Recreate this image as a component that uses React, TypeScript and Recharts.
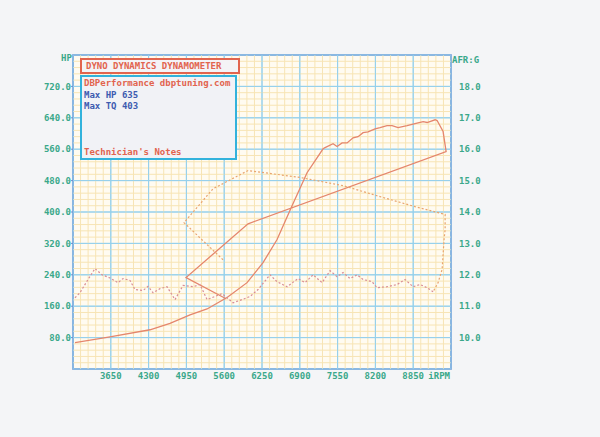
import { LineChart, Line, XAxis, YAxis, CartesianGrid, ReferenceArea, ReferenceLine } from 'recharts'

// HP trace, in the order the pen drew it (run up, then the ramp back down)
const hpRpm = [3034, 3636, 4324, 4668, 5012, 5305, 5649, 5993, 6268, 6509, 6767, 7025, 7300, 7334, 7472, 7541, 7627, 7713, 7816, 7902, 7988, 8074, 8194, 8280, 8400, 8487, 8590, 8745, 8882, 9020, 9089, 9226, 9261, 9364, 9416, 6010, 4944, 5632]
const hpVals = [67, 82, 100, 116, 138, 153, 182, 220, 271, 330, 416, 500, 561, 564, 574, 567, 576, 576, 589, 592, 602, 604, 612, 615, 620, 620, 615, 620, 625, 630, 628, 635, 633, 605, 554, 370, 233, 179]

// dotted loop (right axis)
const loopRpm = [5580, 4909, 5408, 6010, 6904, 7644, 8280, 8882, 9399, 9399, 9381, 9347, 9278, 9192]
const loopAfr = [12.48, 13.66, 14.74, 15.32, 15.1, 14.84, 14.49, 14.17, 13.92, 13.44, 13.13, 12.17, 11.75, 11.46]

// AFR wiggle
const afrRpm = [3034, 3120, 3258, 3378, 3499, 3636, 3774, 3860, 3980, 4066, 4204, 4290, 4376, 4496, 4617, 4754, 4892, 5064, 5184, 5305, 5442, 5563, 5752, 5907, 6044, 6182, 6388, 6509, 6681, 6870, 6990, 7128, 7283, 7420, 7541, 7644, 7764, 7885, 7988, 8143, 8229, 8400, 8573, 8710, 8848, 8968, 9088, 9192]
const afrVals = [11.27, 11.43, 11.85, 12.2, 12.0, 11.9, 11.75, 11.88, 11.82, 11.53, 11.5, 11.63, 11.43, 11.56, 11.62, 11.21, 11.66, 11.62, 11.69, 11.21, 11.31, 11.4, 11.11, 11.21, 11.31, 11.53, 12.0, 11.78, 11.62, 11.88, 11.75, 12.0, 11.75, 12.13, 11.94, 12.07, 11.88, 12.0, 11.85, 11.78, 11.59, 11.62, 11.69, 11.85, 11.62, 11.69, 11.59, 11.46]

const rpmTicks = [3650, 4300, 4950, 5600, 6250, 6900, 7550, 8200, 8850, 9500]
const hpTicks = [80, 160, 240, 320, 400, 480, 560, 640, 720]
const afrTicks = [10, 11, 12, 13, 14, 15, 16, 17, 18]

const hpData = hpRpm.map((rpm, i) => ({ rpm, hp: hpVals[i] }))
const loopData = loopRpm.map((rpm, i) => ({ rpm, afr: loopAfr[i] }))
const afrData = afrRpm.map((rpm, i) => ({ rpm, afr: afrVals[i] }))

// grid lines: minor every 130 rpm / 16 hp, major every 650 rpm / 80 hp
const minorX: number[] = []
for (let v = 3130; v < 9500; v += 130) if ((v - 3000) % 650 !== 0) minorX.push(v)
const minorY: number[] = []
for (let v = 16; v < 800; v += 16) if (v % 80 !== 0) minorY.push(v)
const majorX: number[] = []
for (let v = 3000; v <= 9500; v += 650) majorX.push(v)
const majorY: number[] = []
for (let v = 0; v <= 800; v += 80) majorY.push(v)

const mono = '"DejaVu Sans Mono", monospace'
const green = '#3aa88a'
const minorColor = '#f7e4b4'
const majorColor = '#95d0ec'
const tickFont = { fontSize: 9, fontFamily: mono, fontWeight: 700, fill: green }

const XTick = (props: any) => {
  const { x, y, payload } = props
  const last = payload.value === 9500
  return (
    <text x={last ? x - 1 : x} y={y} dy={8} textAnchor={last ? 'end' : 'middle'} {...tickFont}>
      {last ? 'iRPM' : payload.value}
    </text>
  )
}

export default function App() {
  return (
    <div style={{ position: 'fixed', left: 0, top: 0, width: 600, height: 437, background: '#f4f5f7' }}>
      <LineChart width={600} height={437} margin={{ top: 55, right: 100, left: 13, bottom: 38 }}>
        <CartesianGrid
          yAxisId="hp"
          fill="#fffbf1"
          stroke={majorColor}
          strokeWidth={1}
          verticalValues={majorX}
          horizontalValues={majorY}
        />
        <XAxis
          dataKey="rpm"
          type="number"
          domain={[3000, 9500]}
          ticks={rpmTicks}
          allowDataOverflow
          axisLine={false}
          tickLine={false}
          tickSize={0}
          tickMargin={2}
          height={30}
          tick={<XTick />}
        />
        <YAxis
          yAxisId="hp"
          domain={[0, 800]}
          ticks={hpTicks}
          width={60}
          axisLine={false}
          tickLine={{ stroke: '#6a8fd0' }}
          tickSize={2}
          tickMargin={0}
          tick={tickFont}
          tickFormatter={(v: number) => v.toFixed(1)}
        />
        <YAxis
          yAxisId="afr"
          orientation="right"
          domain={[9, 19]}
          ticks={afrTicks}
          width={49}
          axisLine={false}
          tickLine={false}
          tickSize={0}
          tickMargin={8}
          tick={tickFont}
          tickFormatter={(v: number) => v.toFixed(1)}
        />
        {minorX.map((v) => (
          <ReferenceLine key={'mx' + v} yAxisId="hp" x={v} stroke={minorColor} strokeWidth={1} />
        ))}
        {minorY.map((v) => (
          <ReferenceLine key={'my' + v} yAxisId="hp" y={v} stroke={minorColor} strokeWidth={1} />
        ))}
        {majorX.map((v) => (
          <ReferenceLine key={'Mx' + v} yAxisId="hp" x={v} stroke={majorColor} strokeWidth={1} />
        ))}
        {majorY.map((v) => (
          <ReferenceLine key={'My' + v} yAxisId="hp" y={v} stroke={majorColor} strokeWidth={1} />
        ))}
        <ReferenceArea yAxisId="hp" x1={3000} x2={9500} y1={0} y2={800} fill="none" stroke="#6a8ad0" strokeWidth={1.6} />
        <Line yAxisId="hp" data={hpData} dataKey="hp" type="linear" stroke="#e5866c" strokeWidth={1.3} dot={false} isAnimationActive={false} />
        <Line yAxisId="afr" data={loopData} dataKey="afr" type="linear" stroke="#e9a46e" strokeWidth={1.2} strokeDasharray="2 2" dot={false} isAnimationActive={false} />
        <Line yAxisId="afr" data={afrData} dataKey="afr" type="linear" stroke="#d98c94" strokeWidth={1.2} strokeDasharray="2 2" dot={false} isAnimationActive={false} />
      </LineChart>

      <div style={{ position: 'absolute', left: 61, top: 53, fontFamily: mono, fontWeight: 700, fontSize: 9, color: green }}>HP</div>
      <div style={{ position: 'absolute', left: 452, top: 55, fontFamily: mono, fontWeight: 700, fontSize: 9, color: green }}>AFR:G</div>

      <div
        style={{
          position: 'absolute', left: 80, top: 58, width: 152, height: 12,
          border: '2px solid #e2644e', background: '#f4f3f6',
          fontFamily: mono, fontWeight: 700, fontSize: 9, color: '#e2644e',
          lineHeight: '12px', paddingLeft: 4, boxSizing: 'content-box',
        }}
      >
        DYNO DYNAMICS DYNAMOMETER
      </div>
      <div
        style={{
          position: 'absolute', left: 80, top: 75, width: 153, height: 81,
          border: '2.5px solid #32b2dc', background: '#f1f2f6',
          fontFamily: mono, fontWeight: 700, fontSize: 9, lineHeight: '11px',
        }}
      >
        <div style={{ position: 'absolute', left: 2, top: 1, color: '#e2644e' }}>DBPerformance dbptuning.com</div>
        <div style={{ position: 'absolute', left: 2, top: 13, color: '#3d5bb0' }}>Max HP 635</div>
        <div style={{ position: 'absolute', left: 2, top: 24, color: '#3d5bb0' }}>Max TQ 403</div>
        <div style={{ position: 'absolute', left: 2, top: 70, color: '#e2644e' }}>Technician's Notes</div>
      </div>
    </div>
  )
}
